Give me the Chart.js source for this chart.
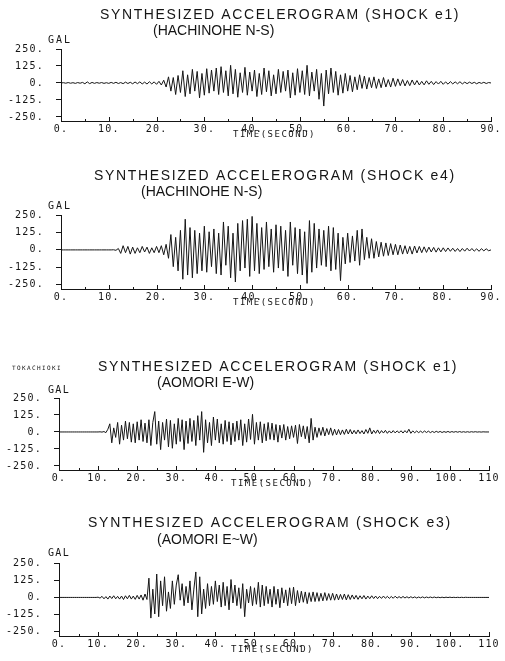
<!DOCTYPE html>
<html>
<head>
<meta charset="utf-8">
<script src="https://cdn.jsdelivr.net/npm/chart.js@4.4.1/dist/chart.umd.min.js"></script>
<style>
  html, body { margin: 0; padding: 0; background: #fff; }
  #wrap { position: relative; width: 505px; height: 661px; overflow: hidden; }
  #wrap canvas { position: absolute; left: 0; top: 0; }
</style>
</head>
<body>
<div id="wrap">
  <canvas id="c1" width="505" height="661"></canvas>
  <canvas id="c2" width="505" height="661"></canvas>
  <canvas id="c3" width="505" height="661"></canvas>
  <canvas id="c4" width="505" height="661"></canvas>
</div>
<script>
// sample step of the traces (seconds)
const DT = 0.5;
const yTicks = [-250, -125, 0, 125, 250];

// accelerations in GAL, one value every 0.5 s
const hachinoheE1 = [
  0, 2, -2, 3, -2, 2, -3, 3, -2, 4,
  -6, 8, -5, 4, -3, 3, -2, 3, -3, 2,
  -3, 4, -3, 5, -4, 3, -5, 6, -4, 5,
  -6, 7, -5, 8, -7, 6, -8, 9, -7, 8,
  -10, 12, -15, 20, -30, 45, -60, 40, -85, 55,
  -70, 90, -100, 60, -80, 100, -60, 85, -110, 70,
  -90, 105, -75, 95, -60, 110, -85, 120, -70, 90,
  -95, 130, -80, 100, -105, 75, -70, 115, -90, 80,
  -60, 95, -100, 70, -85, 110, -65, 90, -95, 60,
  -80, 100, -70, 85, -60, 95, -110, 75, -90, 105,
  -70, 90, -85, 130, -95, 80, -60, 100, -120, 70,
  -170, 95, -80, 110, -70, 85, -90, 60, -75, 70,
  -60, 55, -65, 45, -50, 60, -40, 50, -45, 40,
  -35, 45, -40, 30, -35, 40, -30, 25, -30, 35,
  -25, 30, -20, 25, -22, 18, -20, 22, -15, 18,
  -15, 12, -14, 16, -10, 12, -12, 10, -8, 12,
  -10, 8, -9, 10, -7, 8, -6, 9, -7, 6,
  -5, 6, -4, 5, -6, 4, -3, 5, -4, 3,
  0
];

const hachinoheE4 = [
  0, 0, 0, 0, 0, 0, 0, 0, 0, 0,
  0, 0, 0, 0, 0, 0, 0, 0, 0, 0,
  0, 0, 1, -3, 10, -25, 30, -20, 25, -30,
  20, -25, 15, -20, 25, -15, 20, -25, 15, -20,
  25, -20, 30, -35, 40, -60, 110, -120, 90, -150,
  140, -210, 220, -180, 160, -200, 140, -170, 120, -150,
  170, -160, 130, -120, 150, -170, 120, -180, 200, -110,
  170, -200, 120, -230, 190, -150, 210, -130, 220, -190,
  240, -150, 190, -170, 160, -140, 200, -120, 150, -160,
  180, -130, 170, -150, 140, -190, 200, -110, 160, -170,
  150, -180, 130, -240, 210, -160, 190, -130, 150, -110,
  140, -120, 170, -150, 160, -140, 120, -220, 90, -100,
  120, -90, 100, -80, 140, -110, 150, -70, 90, -60,
  80, -60, 60, -50, 55, -45, 50, -40, 45, -35,
  40, -35, 35, -30, 30, -28, 25, -30, 28, -22,
  25, -20, 22, -18, 20, -15, 18, -16, 15, -14,
  15, -12, 14, -10, 12, -11, 10, -12, 10, -9,
  12, -8, 10, -9, 8, -10, 9, -7, 8, -6,
  0
];

const aomoriE1 = [
  0, 0, 0, 0, 0, 0, 0, 0, 0, 0,
  0, 0, 0, 0, 0, 0, 0, 0, 0, 0,
  0, 1, -1, 3, -5, 20, 60, -80, 30, -40,
  70, -90, 50, -60, 80, -50, 70, -75, 60, -80,
  75, -60, 90, -70, 65, -80, 90, -100, 70, 150,
  -90, 80, -130, 70, -60, 95, -110, 85, -120, 60,
  -90, 100, -70, 90, -130, 80, -85, 100, -70, 85,
  -100, 120, -60, 150, -150, 90, -80, 70, -100, 110,
  -60, 95, -80, 60, -90, 85, -70, 75, -95, 65,
  -70, 80, -60, 90, -100, 60, -75, 95, -55, 130,
  -90, 70, -60, 75, -80, 60, -65, 70, -55, 65,
  -60, 55, -75, 50, -45, 55, -60, 40, -50, 45,
  -40, 50, -85, 55, -35, 45, -50, 40, -80, 100,
  -60, 35, -40, 30, -25, 35, -30, 25, -20, 30,
  -25, 20, -22, 18, -20, 15, -18, 20, -15, 18,
  -15, 12, -14, 15, -12, 10, -15, 18, -10, 30,
  -15, 12, -10, 15, -12, 10, -8, 12, -10, 8,
  -8, 10, -7, 8, -6, 9, -8, 10, -6, 20,
  -10, 8, -6, 7, -5, 6, -5, 7, -4, 6,
  -5, 4, -4, 5, -3, 4, -4, 3, -3, 4,
  -3, 3, -2, 3, -2, 3, -2, 2, -2, 2,
  -2, 2, -1, 2, -1, 1, -1, 1, 0, 0,
  0
];

const aomoriE3 = [
  0, 0, 0, 0, 0, 0, 0, 0, 0, 0,
  0, 0, 0, 0, 0, 0, 0, 0, 0, 0,
  2, -5, 8, -10, 6, -12, 10, -8, 12, -10,
  8, -12, 10, -15, 12, -10, 15, -12, 10, -14,
  15, -12, 18, -20, 25, -15, 140, -150, 60, -120,
  170, -140, 120, -60, 150, -100, 40, -80, 120, -50,
  90, 165, -20, 100, -60, 80, -40, 120, -90, 60,
  185, -140, 150, -120, 60, -80, 100, -60, 80, -50,
  120, -30, 90, -70, 110, -60, 80, -90, 130, -40,
  90, -60, 70, -80, 100, -140, 60, -40, 80, -60,
  70, -50, 110, -70, 90, -60, 80, -45, 60, -70,
  80, -50, 60, -75, 70, -40, 55, -60, 70, -45,
  75, -60, 50, -40, 45, -35, 40, -45, 35, -30,
  40, -30, 35, -28, 30, -25, 35, -22, 28, -20,
  30, -20, 25, -18, 22, -15, 25, -18, 20, -15,
  18, -12, 15, -14, 12, -10, 14, -12, 10, -9,
  12, -8, 10, -9, 8, -7, 10, -6, 8, -7,
  7, -6, 9, -5, 6, -5, 7, -4, 5, -4,
  5, -3, 4, -4, 3, -3, 4, -3, 3, -2,
  3, -2, 3, -2, 2, -2, 2, -2, 2, -1,
  2, -1, 1, -1, 1, -1, 1, -1, 1, 0,
  0, 0, 0, 0, 0, 0, 0, 0, 0, 0,
  0
];

const INK = "#151515";
const TITLE_FONT = "14px 'Liberation Sans', Arial, sans-serif";
const SMALL_FONT = "10px 'DejaVu Sans Mono', monospace";
const TIME_FONT = "9px 'DejaVu Sans Mono', monospace";

// stretch a text between x0 and x1 (letter spacing), like the plotter lettering
function fitText(ctx, t) {
  ctx.font = t.font;
  ctx.letterSpacing = "0px";
  let ls = 0;
  if (t.x1) {
    const w = ctx.measureText(t.text).width;
    ls = (t.x1 - t.x0 - w) / t.text.length;
  }
  ctx.letterSpacing = ls.toFixed(2) + "px";
  ctx.fillText(t.text, t.x0, t.y);
}

const panelText = {
  id: "panelText",
  beforeDraw(chart) {
    chart.ctx.letterSpacing = "1.2px";
  },
  afterDraw(chart, args, opts) {
    const ctx = chart.ctx;
    const x = chart.scales.x;
    const bottom = chart.chartArea.bottom;
    ctx.save();
    // small inward ticks on the time axis
    ctx.strokeStyle = INK;
    ctx.lineWidth = 1;
    ctx.beginPath();
    for (let v = 5; v <= x.max; v += 5) {
      const px = Math.round(x.getPixelForValue(v)) + 0.5;
      const len = v % 10 === 0 ? 4 : 2;
      ctx.moveTo(px, bottom);
      ctx.lineTo(px, bottom - len);
    }
    ctx.stroke();
    ctx.fillStyle = INK;
    ctx.textAlign = "left";
    ctx.textBaseline = "middle";
    opts.items.forEach(t => fitText(ctx, t));
    ctx.restore();
  }
};

function makePanel(id, values, xMax, box, texts) {
  const pts = values.map((v, i) => ({ x: i * DT, y: v }));
  return new Chart(document.getElementById(id), {
    type: "line",
    data: {
      datasets: [{
        data: pts,
        borderColor: INK,
        borderWidth: 1,
        borderJoinStyle: "bevel",
        pointRadius: 0,
        tension: 0,
        fill: false
      }]
    },
    options: {
      responsive: false,
      animation: false,
      events: [],
      layout: { padding: { top: box.top, right: 505 - box.right, left: 0, bottom: 0 } },
      scales: {
        x: {
          type: "linear",
          min: 0,
          max: xMax,
          afterFit: s => { s.height = 661 - box.bottom; },
          afterBuildTicks: s => {
            const t = [];
            for (let v = 0; v <= xMax; v += 10) t.push({ value: v });
            s.ticks = t;
          },
          grid: { display: false, drawTicks: false },
          border: { display: true, color: INK, width: 1 },
          ticks: {
            color: INK,
            font: { family: "'DejaVu Sans Mono', monospace", size: 10 },
            padding: 2,
            maxRotation: 0,
            autoSkip: false,
            callback: v => (v === 110 ? "110" : v + ".")
          }
        },
        y: {
          min: -280,
          max: 250,
          afterFit: s => { s.width = box.left; },
          afterBuildTicks: s => { s.ticks = yTicks.map(v => ({ value: v })); },
          grid: { drawOnChartArea: false, drawTicks: true, tickLength: 5, color: INK },
          border: { display: true, color: INK, width: 1 },
          ticks: {
            color: INK,
            font: { family: "'DejaVu Sans Mono', monospace", size: 10 },
            padding: 12,
            callback: v => v + "."
          }
        }
      },
      plugins: {
        legend: { display: false },
        tooltip: { enabled: false },
        panelText: { items: texts }
      }
    },
    plugins: [panelText]
  });
}

makePanel("c1", hachinoheE1, 90, { top: 49, bottom: 121, right: 491, left: 61 }, [
  { text: "SYNTHESIZED ACCELEROGRAM (SHOCK e1)", x0: 100, x1: 460, y: 15, font: TITLE_FONT },
  { text: "(HACHINOHE N-S)", x0: 153, y: 31, font: TITLE_FONT },
  { text: "GAL", x0: 48, x1: 72, y: 40, font: SMALL_FONT },
  { text: "TIME(SECOND)", x0: 233, x1: 316, y: 135, font: TIME_FONT }
]);

makePanel("c2", hachinoheE4, 90, { top: 215, bottom: 289, right: 491, left: 61 }, [
  { text: "SYNTHESIZED ACCELEROGRAM (SHOCK e4)", x0: 94, x1: 456, y: 176, font: TITLE_FONT },
  { text: "(HACHINOHE N-S)", x0: 141, y: 192, font: TITLE_FONT },
  { text: "GAL", x0: 48, x1: 72, y: 206, font: SMALL_FONT },
  { text: "TIME(SECOND)", x0: 233, x1: 316, y: 303, font: TIME_FONT }
]);

makePanel("c3", aomoriE1, 110, { top: 398, bottom: 470, right: 489, left: 59 }, [
  { text: "TOKACHIOKI", x0: 12, x1: 62, y: 368, font: "6px 'DejaVu Sans Mono', monospace" },
  { text: "SYNTHESIZED ACCELEROGRAM (SHOCK e1)", x0: 98, x1: 458, y: 367, font: TITLE_FONT },
  { text: "(AOMORI E-W)", x0: 157, y: 383, font: TITLE_FONT },
  { text: "GAL", x0: 48, x1: 70, y: 390, font: SMALL_FONT },
  { text: "TIME(SECOND)", x0: 231, x1: 314, y: 484, font: TIME_FONT }
]);

makePanel("c4", aomoriE3, 110, { top: 563, bottom: 636, right: 489, left: 59 }, [
  { text: "SYNTHESIZED ACCELEROGRAM (SHOCK e3)", x0: 88, x1: 452, y: 523, font: TITLE_FONT },
  { text: "(AOMORI E~W)", x0: 157, y: 540, font: TITLE_FONT },
  { text: "GAL", x0: 48, x1: 70, y: 553, font: SMALL_FONT },
  { text: "TIME(SECOND)", x0: 231, x1: 314, y: 650, font: TIME_FONT }
]);
</script>
</body>
</html>
